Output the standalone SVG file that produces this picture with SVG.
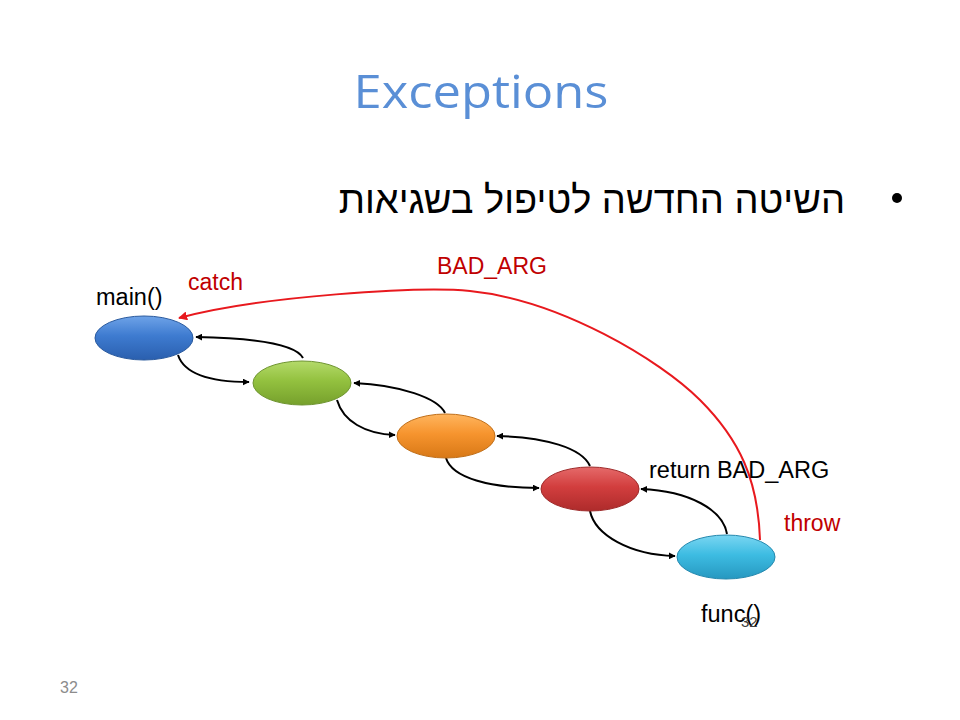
<svg xmlns="http://www.w3.org/2000/svg" width="960" height="720" viewBox="0 0 960 720">
<defs>
<style>
.lbl{font-family:"Liberation Sans",Arial,sans-serif;font-size:23.5px;fill:#000}
.red{font-family:"Liberation Sans",Arial,sans-serif;font-size:23px;fill:#C00000}
.blk{fill:none;stroke:#000;stroke-width:2}
.rd{fill:none;stroke:#E8191E;stroke-width:2}
.node{stroke-width:1}
</style>
<marker id="ah" viewBox="0 0 10 10" refX="9" refY="5" markerWidth="7" markerHeight="7" orient="auto" markerUnits="userSpaceOnUse">
<path d="M0,0 L10,5 L0,10 z" fill="#000"/>
</marker>
<marker id="ahr" viewBox="0 0 10 10" refX="9" refY="5" markerWidth="9" markerHeight="9" orient="auto" markerUnits="userSpaceOnUse">
<path d="M0,0 L10,5 L0,10 z" fill="#E8191E"/>
</marker>
<linearGradient id="gBlue" x1="0" y1="0" x2="0" y2="1"><stop offset="0" stop-color="#6EA3E8"/><stop offset="0.45" stop-color="#3E7BD0"/><stop offset="1" stop-color="#2A5FAE"/></linearGradient>
<linearGradient id="gGreen" x1="0" y1="0" x2="0" y2="1"><stop offset="0" stop-color="#B4DA6A"/><stop offset="0.45" stop-color="#93C13F"/><stop offset="1" stop-color="#76A02C"/></linearGradient>
<linearGradient id="gOrange" x1="0" y1="0" x2="0" y2="1"><stop offset="0" stop-color="#FFB55E"/><stop offset="0.45" stop-color="#F6942E"/><stop offset="1" stop-color="#D87816"/></linearGradient>
<linearGradient id="gRed" x1="0" y1="0" x2="0" y2="1"><stop offset="0" stop-color="#E56A6A"/><stop offset="0.45" stop-color="#D23E3E"/><stop offset="1" stop-color="#AE2B2B"/></linearGradient>
<linearGradient id="gCyan" x1="0" y1="0" x2="0" y2="1"><stop offset="0" stop-color="#7AD6F2"/><stop offset="0.45" stop-color="#3DBCE2"/><stop offset="1" stop-color="#2698C0"/></linearGradient>
</defs>
<rect width="960" height="720" fill="#fff"/>

<text x="481" y="108" text-anchor="middle" font-family="'Open Sans','Liberation Sans',sans-serif" font-size="46" fill="#5A8FD6" textLength="255" lengthAdjust="spacingAndGlyphs">Exceptions</text>
<circle cx="897" cy="198" r="5" fill="#000"/>
<text x="845" y="213" text-anchor="end" font-family="'Liberation Sans','DejaVu Sans',sans-serif" font-size="38" fill="#000">השיטה החדשה לטיפול בשגיאות</text>

<g id="connectors">
<path class="blk" d="M178,355 C185,376 215,382 249,382" marker-end="url(#ah)"/>
<path class="blk" d="M303,358 C295,343 250,338 196,337" marker-end="url(#ah)"/>
<path class="blk" d="M337,400 C343,421 365,434 395,435" marker-end="url(#ah)"/>
<path class="blk" d="M445,413 C438,398 400,385 354,383" marker-end="url(#ah)"/>
<path class="blk" d="M446,458 C452,478 490,488 539,488" marker-end="url(#ah)"/>
<path class="blk" d="M590,466 C582,448 545,437 497,436" marker-end="url(#ah)"/>
<path class="blk" d="M590,511 C595,535 630,555 675,556" marker-end="url(#ah)"/>
<path class="blk" d="M727,534 C723,510 690,491 641,489" marker-end="url(#ah)"/>
<path class="rd" d="M760,540 C758,480 740,440 700,400 C660,360 560,300 470,291 C420,286 260,296 179,318" marker-end="url(#ahr)"/>
</g>

<g id="n-main">
<ellipse class="node" cx="144" cy="338" rx="49" ry="22" fill="url(#gBlue)" stroke="#2A5A9E"/>
<text class="lbl" x="96" y="305">main()</text>
</g>
<g id="n-2">
<ellipse class="node" cx="302" cy="383" rx="49" ry="22" fill="url(#gGreen)" stroke="#6E9430"/>
</g>
<g id="n-3">
<ellipse class="node" cx="446" cy="436" rx="49" ry="22" fill="url(#gOrange)" stroke="#C06E18"/>
</g>
<g id="n-4">
<ellipse class="node" cx="590" cy="489" rx="49" ry="22" fill="url(#gRed)" stroke="#9E2A2A"/>
<text class="lbl" x="649" y="478">return BAD_ARG</text>
</g>
<g id="n-func">
<ellipse class="node" cx="726" cy="557" rx="49" ry="22" fill="url(#gCyan)" stroke="#2488AE"/>
<text class="lbl" x="701" y="622">func()</text>
</g>

<text class="red" x="188" y="290">catch</text>
<text class="red" x="437" y="274">BAD_ARG</text>
<text class="red" x="784" y="531">throw</text>

<text x="741" y="627" font-family="'Liberation Sans',Arial,sans-serif" font-size="15" fill="#404040">32</text>
<text x="60" y="693" font-family="'Liberation Sans',Arial,sans-serif" font-size="16" fill="#8C8C8C">32</text>
</svg>
